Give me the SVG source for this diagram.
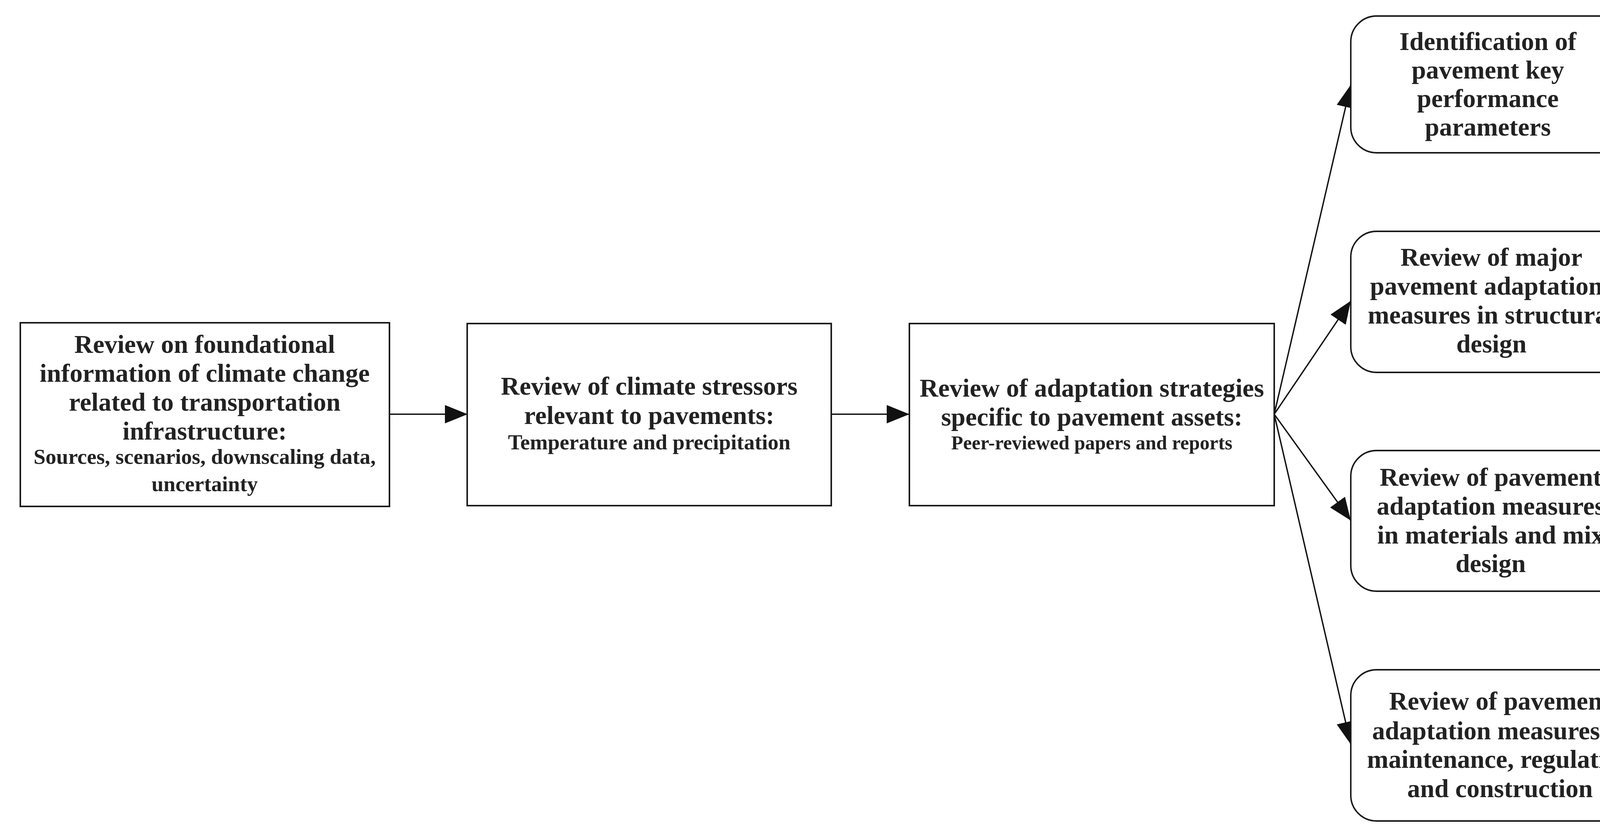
<svg xmlns="http://www.w3.org/2000/svg" width="4259" height="2142" viewBox="0 0 4259 2142">
<style>
.box{fill:#fff;stroke:#1a1a1a;stroke-width:4}
.rnode{fill:#fff;stroke:#1a1a1a;stroke-width:3.8}
.t{font-family:"Liberation Serif","Times New Roman",serif;font-weight:bold;fill:#222;text-anchor:middle}
.big{font-size:66px}
.sm{font-size:55px}
.xs{font-size:50px}
.conn{fill:none;stroke:#111;stroke-width:3.5}
</style>
<defs>
<marker id="ah" markerUnits="userSpaceOnUse" markerWidth="58" markerHeight="47" refX="58" refY="23.5" orient="auto" viewBox="0 0 58 47">
<path d="M0,0 L58,23.5 L0,47 z" fill="#111"/>
</marker>
</defs>
<rect width="4259" height="2142" fill="#fff"/>
<g id="connectors">
<line class="conn" x1="997" y1="1060" x2="1197" y2="1060" marker-end="url(#ah)"/>
<line class="conn" x1="2128" y1="1060" x2="2328" y2="1060" marker-end="url(#ah)"/>
<line class="conn" x1="3262" y1="1060" x2="3458" y2="217" marker-end="url(#ah)"/>
<line class="conn" x1="3262" y1="1060" x2="3458" y2="770" marker-end="url(#ah)"/>
<line class="conn" x1="3262" y1="1060" x2="3458" y2="1332" marker-end="url(#ah)"/>
<line class="conn" x1="3262" y1="1060" x2="3458" y2="1905" marker-end="url(#ah)"/>
</g>
<g id="node1">
<rect class="box" x="52" y="826" width="945" height="470"/>
<text class="t big" x="524" y="903">Review on foundational</text>
<text class="t big" x="524" y="977">information of climate change</text>
<text class="t big" x="524" y="1051">related to transportation</text>
<text class="t big" x="524" y="1125">infrastructure:</text>
<text class="t sm" x="524" y="1187">Sources, scenarios, downscaling data,</text>
<text class="t sm" x="524" y="1257">uncertainty</text>
</g>
<g id="node2">
<rect class="box" x="1196" y="828" width="932" height="466"/>
<text class="t big" x="1662" y="1010">Review of climate stressors</text>
<text class="t big" x="1662" y="1085">relevant to pavements:</text>
<text class="t sm" x="1662" y="1150">Temperature and precipitation</text>
</g>
<g id="node3">
<rect class="box" x="2328" y="828" width="934" height="466"/>
<text class="t big" x="2795" y="1015">Review of adaptation strategies</text>
<text class="t big" x="2795" y="1089">specific to pavement assets:</text>
<text class="t xs" x="2795" y="1150">Peer-reviewed papers and reports</text>
</g>
<g id="node4">
<rect class="rnode" x="3458" y="41" width="701" height="350" rx="66" ry="66"/>
<text class="t big" x="3809" y="128">Identification of</text>
<text class="t big" x="3809" y="201">pavement key</text>
<text class="t big" x="3809" y="274">performance</text>
<text class="t big" x="3809" y="347">parameters</text>
</g>
<g id="node5">
<rect class="rnode" x="3458" y="592" width="721" height="361" rx="66" ry="66"/>
<text class="t big" x="3818" y="680">Review of major</text>
<text class="t big" x="3818" y="754">pavement adaptations</text>
<text class="t big" x="3818" y="828">measures in structural</text>
<text class="t big" x="3818" y="902">design</text>
</g>
<g id="node6">
<rect class="rnode" x="3458" y="1153" width="716" height="360" rx="66" ry="66"/>
<text class="t big" x="3816" y="1243">Review of pavement</text>
<text class="t big" x="3816" y="1317">adaptation measures</text>
<text class="t big" x="3816" y="1391">in materials and mix</text>
<text class="t big" x="3816" y="1464">design</text>
</g>
<g id="node7">
<rect class="rnode" x="3458" y="1714" width="763" height="387" rx="66" ry="66"/>
<text class="t big" x="3840" y="1816">Review of pavement</text>
<text class="t big" x="3840" y="1892">adaptation measures in</text>
<text class="t big" x="3840" y="1965">maintenance, regulation</text>
<text class="t big" x="3840" y="2040">and construction</text>
</g>
</svg>
